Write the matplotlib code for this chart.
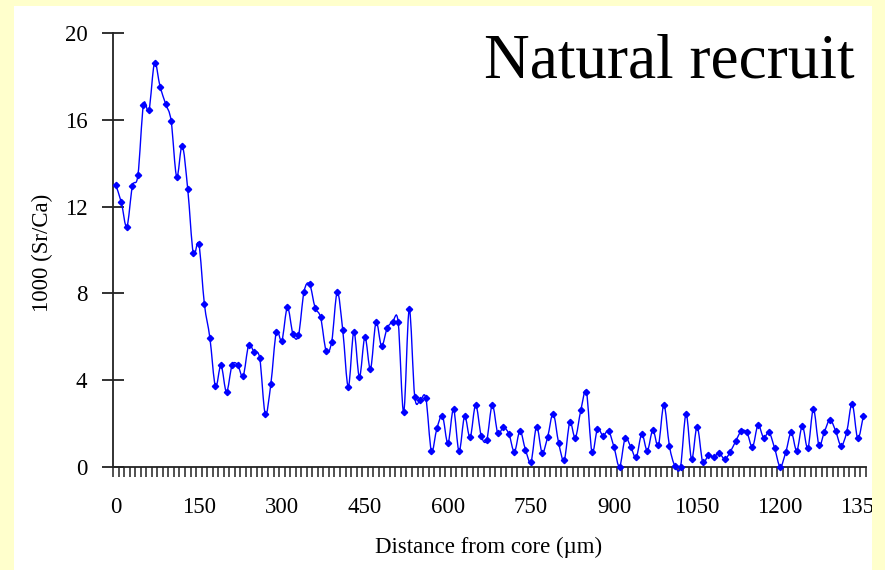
import matplotlib
matplotlib.use("Agg")
import matplotlib.pyplot as plt
import numpy as np
from matplotlib.path import Path
from matplotlib.patches import PathPatch, Rectangle

# ---- data ----
step_um = 10
sr_ca = [
    13.0, 12.2, 11.08, 12.94, 13.45, 16.7, 16.46, 18.63, 17.54, 16.75,
    15.95, 13.38, 14.82, 12.8, 9.85, 10.28, 7.52, 5.94, 3.71, 4.68,
    3.45, 4.68, 4.71, 4.18, 5.6, 5.28, 5.0, 2.43, 3.8, 6.22,
    5.82, 7.35, 6.13, 6.06, 8.08, 8.43, 7.34, 6.89, 5.35, 5.77,
    8.05, 6.29, 3.69, 6.23, 4.14, 5.98, 4.51, 6.66, 5.57, 6.38,
    6.68, 6.68, 2.52, 7.26, 3.22, 3.08, 3.17, 0.74, 1.77, 2.34,
    1.08, 2.65, 0.71, 2.32, 1.35, 2.85, 1.43, 1.23, 2.85, 1.54,
    1.82, 1.51, 0.69, 1.65, 0.78, 0.23, 1.85, 0.65, 1.37, 2.45,
    1.08, 0.31, 2.04, 1.34, 2.61, 3.45, 0.69, 1.74, 1.43, 1.65,
    0.89, 0.0, 1.32, 0.92, 0.43, 1.51, 0.74, 1.69, 0.98, 2.85,
    0.95, 0.03, 0.0, 2.43, 0.34, 1.85, 0.23, 0.52, 0.46, 0.62,
    0.35, 0.69, 1.2, 1.65, 1.58, 0.91, 1.92, 1.34, 1.58, 0.85,
    0.0, 0.66, 1.58, 0.74, 1.89, 0.85, 2.66, 1.0, 1.62, 2.17,
    1.66, 0.97, 1.58, 2.91, 1.31, 2.32,
]
distance = [i * step_um for i in range(len(sr_ca))]
x_tick_values = [0, 150, 300, 450, 600, 750, 900, 1050, 1200, 1350]
y_tick_values = [0, 4, 8, 12, 16, 20]
title_text = "Natural recruit"
x_label = "Distance from core (\u00b5m)"
y_label = "1000 (Sr/Ca)"

serif = ["Liberation Serif", "DejaVu Serif"]
blue = "#0000FF"
yellow = "#FFFFCC"

W, H = 885, 570
fig = plt.figure(figsize=(W / 100, H / 100), dpi=100)
fig.patch.set_facecolor(yellow)
fig.add_artist(Rectangle((14 / W, 0), (872 - 14) / W, (570 - 6) / H,
                         transform=fig.transFigure, facecolor="white",
                         edgecolor="none", zorder=-5))
# yellow strip on the right that hides the overflowing last tick label
fig.add_artist(Rectangle((872 / W, 0), (W - 872) / W, 1,
                         transform=fig.transFigure, facecolor=yellow,
                         edgecolor="none", zorder=20))

ax = fig.add_axes([113 / W, 1 - 466.7 / H, (866 - 113) / W, (466.7 - 33.3) / H])
ax.set_facecolor("none")
ax.set_xlim(-5, 1355)
ax.set_ylim(0, 20)

# smoothed line (Excel-like Catmull-Rom Bezier through the data points)
xs = np.asarray(distance, float)
ys = np.asarray(sr_ca, float)
verts = [(xs[0], ys[0])]
codes = [Path.MOVETO]
n = len(xs)
for i in range(n - 1):
    p0 = (xs[max(i - 1, 0)], ys[max(i - 1, 0)])
    p1 = (xs[i], ys[i])
    p2 = (xs[i + 1], ys[i + 1])
    p3 = (xs[min(i + 2, n - 1)], ys[min(i + 2, n - 1)])
    c1 = (p1[0] + (p2[0] - p0[0]) / 6, p1[1] + (p2[1] - p0[1]) / 6)
    c2 = (p2[0] - (p3[0] - p1[0]) / 6, p2[1] - (p3[1] - p1[1]) / 6)
    verts += [c1, c2, p2]
    codes += [Path.CURVE4] * 3
ax.add_patch(PathPatch(Path(verts, codes), facecolor="none", edgecolor=blue,
                       linewidth=1.0, clip_on=False, zorder=3))
ax.plot(distance, sr_ca, linestyle="none", marker="D", markersize=3.2,
        color=blue, clip_on=False, zorder=4)

# spines
for s in ["top", "right"]:
    ax.spines[s].set_visible(False)
for s in ["left", "bottom"]:
    ax.spines[s].set_color("#222222")
    ax.spines[s].set_linewidth(1.3)

ax.set_yticks(y_tick_values)
ax.set_yticklabels([str(v) for v in y_tick_values], fontfamily=serif, fontsize=16.5)
ax.tick_params(axis="y", direction="inout", length=16, width=1.3, color="#222222", pad=10.5)

ax.set_xticks(x_tick_values)
ax.set_xticklabels([str(v) for v in x_tick_values], fontfamily=serif, fontsize=16.5)
ax.tick_params(axis="x", which="major", length=0, pad=22)
ax.set_xticks(np.arange(-5, 1356, 10), minor=True)
ax.tick_params(axis="x", which="minor", direction="out", length=7, width=1.1, color="#222222")
for lbl in ax.get_xticklabels():
    lbl.set_clip_on(False)

fig.text(42 / W, 1 - 253 / H, y_label, rotation=90, ha="center", va="center",
         fontfamily=serif, fontsize=16.5)
fig.text(489 / W, 1 - 547 / H, x_label, ha="center", va="center",
         fontfamily=serif, fontsize=16.5)
fig.text(855 / W, 1 - 78 / H, title_text, ha="right", va="baseline",
         fontfamily=serif, fontsize=45.5)

fig.savefig("out.png", dpi=100, facecolor=yellow)
